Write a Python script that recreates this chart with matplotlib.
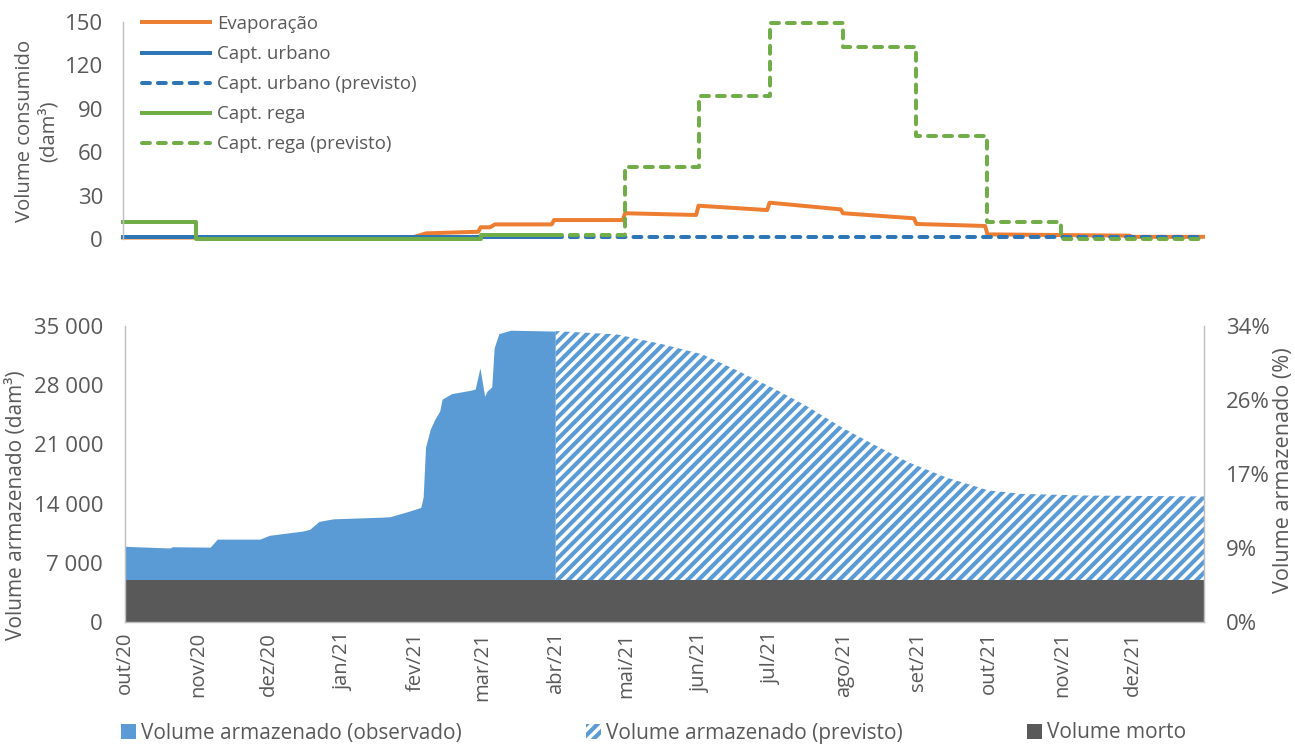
import matplotlib
matplotlib.use("Agg")
import matplotlib.pyplot as plt
from matplotlib.patches import Patch
import pandas as pd

# Figure geometry: 1295 x 745 px. dpi 130 so that the hatch spacing is close
# to the Excel "wide upward diagonal" pattern.
DPI = 130
W, H = 1295, 745

TXT = "#595959"
AXIS_GREY = "#BFBFBF"
ORANGE = "#ED7D31"
BLUE_LINE = "#2E75B6"
GREEN = "#70AD47"
AREA_BLUE = "#5B9BD5"
DEAD_GREY = "#595959"

# ---------------------------------------------------------------- data
month_starts = pd.date_range("2020-10-01", "2021-12-01", freq="MS")
month_labels = ["out/20", "nov/20", "dez/20", "jan/21", "fev/21", "mar/21",
                "abr/21", "mai/21", "jun/21", "jul/21", "ago/21", "set/21",
                "out/21", "nov/21", "dez/21"]
x_start, x_end = pd.Timestamp("2020-10-01"), pd.Timestamp("2021-12-31")

# top panel (dam3)
evap_dates = pd.to_datetime([
    "2020-10-01", "2021-01-31", "2021-02-06", "2021-02-28", "2021-03-01",
    "2021-03-05", "2021-03-07", "2021-03-31", "2021-04-01", "2021-04-30",
    "2021-05-01", "2021-05-31", "2021-06-01", "2021-06-30", "2021-07-01",
    "2021-07-31", "2021-08-01", "2021-08-31", "2021-09-01", "2021-09-30",
    "2021-10-01", "2021-11-30", "2021-12-01", "2021-12-31"])
evap_vals = [1.0, 1.0, 3.9, 5.0, 8.1,
             8.1, 10.1, 10.1, 13.1, 13.1,
             17.8, 16.6, 23.0, 20.0, 25.1,
             20.5, 17.8, 14.3, 10.4, 9.0,
             3.2, 2.3, 1.5, 1.5]

urb_obs_dates = pd.to_datetime(["2020-10-01", "2021-04-01"])
urb_obs_vals = [1.2, 1.2]
urb_prev_dates = pd.to_datetime(["2021-04-01", "2021-12-31"])
urb_prev_vals = [1.2, 1.2]

rega_obs_dates = pd.to_datetime(["2020-10-01", "2020-11-01", "2021-03-01", "2021-04-01"])
rega_obs_vals = [12.0, 0.0, 2.8, 2.8]
rega_prev_dates = pd.to_datetime([
    "2021-04-01", "2021-05-01", "2021-06-01", "2021-07-01", "2021-08-01",
    "2021-09-01", "2021-10-01", "2021-11-01", "2021-12-31"])
rega_prev_vals = [3.0, 50.0, 99.0, 149.5, 133.0, 71.0, 12.0, 0.0, 0.0]

# bottom panel (dam3)
obs_dates = pd.to_datetime([
    "2020-10-01", "2020-10-20", "2020-10-21", "2020-11-06", "2020-11-09",
    "2020-11-27", "2020-12-01", "2020-12-15", "2020-12-18", "2020-12-22",
    "2020-12-28", "2021-01-18", "2021-01-21", "2021-01-29", "2021-02-03",
    "2021-02-04", "2021-02-05", "2021-02-07", "2021-02-09", "2021-02-11",
    "2021-02-12", "2021-02-16", "2021-02-24", "2021-02-26", "2021-02-28",
    "2021-03-02", "2021-03-03", "2021-03-05", "2021-03-06", "2021-03-08",
    "2021-03-13", "2021-04-01"])
obs_vals = [8950, 8750, 8900, 8850, 9800,
            9800, 10250, 10750, 10950, 11900,
            12200, 12400, 12450, 13100, 13550,
            14750, 20650, 22800, 24000, 24950,
            26350, 27000, 27400, 27550, 30050,
            26700, 27300, 27800, 32400, 34100,
            34500, 34400]

prev_dates = pd.to_datetime([
    "2021-04-01", "2021-04-27", "2021-05-16", "2021-06-02", "2021-06-17",
    "2021-07-03", "2021-07-16", "2021-07-31", "2021-08-13", "2021-08-28",
    "2021-09-13", "2021-10-01", "2021-10-15", "2021-11-12", "2021-12-31"])
prev_vals = [34400, 34000, 32850, 31650, 29700,
             27500, 25550, 23000, 21050, 18900,
             17100, 15550, 15150, 14950, 14850]

dead_volume = 5000

left_ticks = [0, 7000, 14000, 21000, 28000, 35000]
right_ticks = [0, 0.085, 0.17, 0.255, 0.34]
right_labels = ["0%", "9%", "17%", "26%", "34%"]
top_ticks = [0, 30, 60, 90, 120, 150]

# ---------------------------------------------------------------- style
plt.rcParams["font.family"] = ["Open Sans", "DejaVu Sans"]
plt.rcParams["font.size"] = 11
plt.rcParams["text.color"] = TXT
plt.rcParams["hatch.linewidth"] = 2.3

LW = 2.2            # ~4 px
DASH = (2.0, 2.0)
TICK_FS = 12.3


def px(v):
    return v * 72.0 / DPI


fig = plt.figure(figsize=(W / DPI, H / DPI), dpi=DPI)

ax_top = fig.add_axes([123 / W, 1 - 239 / H, (1203 - 123) / W, (239 - 22) / H])
ax_bot = fig.add_axes([125 / W, 1 - 622 / H, (1204 - 125) / W, (622 - 326) / H])
ax_pct = ax_bot.twinx()

# ---------------------------------------------------------------- top panel
ax_top.plot(evap_dates, evap_vals, color=ORANGE, lw=LW, clip_on=False,
            label="Evaporação")
ax_top.plot(urb_obs_dates, urb_obs_vals, color=BLUE_LINE, lw=LW,
            drawstyle="steps-post", clip_on=False, label="Capt. urbano")
ax_top.plot(urb_prev_dates, urb_prev_vals, color=BLUE_LINE, lw=LW,
            drawstyle="steps-post", dashes=DASH, dash_capstyle="round",
            clip_on=False, label="Capt. urbano (previsto)")
ax_top.plot(rega_obs_dates, rega_obs_vals, color=GREEN, lw=LW,
            drawstyle="steps-post", clip_on=False, label="Capt. rega")
ax_top.plot(rega_prev_dates, rega_prev_vals, color=GREEN, lw=LW,
            drawstyle="steps-post", dashes=DASH, dash_capstyle="round",
            clip_on=False, label="Capt. rega (previsto)")

ax_top.set_xlim(x_start, x_end)
ax_top.set_ylim(0, 150)
ax_top.set_yticks(top_ticks)
ax_top.set_xticks([])
for s in ("top", "right", "bottom"):
    ax_top.spines[s].set_visible(False)
ax_top.spines["left"].set_color(AXIS_GREY)
ax_top.tick_params(axis="y", length=0, pad=px(20), labelcolor=TXT,
                   labelsize=TICK_FS)

ax_top.legend(loc="upper left", bbox_to_anchor=(142 / W, 1 - 15 / H),
              bbox_transform=fig.transFigure, frameon=False,
              borderpad=0, borderaxespad=0, handlelength=3.65,
              handletextpad=0.38, labelspacing=0.65, fontsize=10.3)

fig.text(37 / W, 1 - 131 / H, "Volume consumido\n(dam³)", rotation=90,
         ha="center", va="center", multialignment="center", fontsize=11.2,
         color=TXT, linespacing=1.2)

# ---------------------------------------------------------------- bottom panel
ax_bot.fill_between(obs_dates, 0, obs_vals, color=AREA_BLUE, lw=0)
ax_bot.fill_between(prev_dates, 0, prev_vals, facecolor="white",
                    edgecolor=AREA_BLUE, hatch="////", lw=0)
ax_bot.fill_between([x_start, x_end], 0, dead_volume, color=DEAD_GREY, lw=0)

ax_bot.set_xlim(x_start, x_end)
ax_bot.set_ylim(0, 35000)
ax_bot.set_yticks(left_ticks)
ax_bot.set_yticklabels([f"{v:,}".replace(",", " ") for v in left_ticks])
ax_bot.set_xticks(month_starts)
ax_bot.set_xticklabels(month_labels, rotation=90, va="top", ha="center")
ax_bot.tick_params(axis="y", length=0, pad=px(22), labelcolor=TXT,
                   labelsize=TICK_FS)
ax_bot.tick_params(axis="x", length=0, pad=px(10), labelcolor=TXT,
                   labelsize=11.2)
for s in ("top", "right"):
    ax_bot.spines[s].set_visible(False)
for s in ("left", "bottom"):
    ax_bot.spines[s].set_color(AXIS_GREY)

ax_pct.set_ylim(0, 0.34)
ax_pct.set_yticks(right_ticks)
ax_pct.set_yticklabels(right_labels)
ax_pct.tick_params(axis="y", length=0, pad=px(22), labelcolor=TXT,
                   labelsize=TICK_FS)
for s in ("top", "left", "bottom"):
    ax_pct.spines[s].set_visible(False)
ax_pct.spines["right"].set_color(AXIS_GREY)

fig.text(17 / W, 1 - 505 / H, "Volume armazenado (dam³)", rotation=90,
         ha="center", va="center", fontsize=11.6, color=TXT)
fig.text(1283 / W, 1 - 470 / H, "Volume armazenado (%)", rotation=90,
         ha="center", va="center", fontsize=12.0, color=TXT)

handles = [Patch(facecolor=AREA_BLUE, lw=0),
           Patch(facecolor="white", edgecolor=AREA_BLUE, hatch="////", lw=0),
           Patch(facecolor=DEAD_GREY, lw=0)]
labels = ["Volume armazenado (observado)", "Volume armazenado (previsto)",
          "Volume morto"]
fig.legend(handles, labels, loc="center left", ncol=3,
           bbox_to_anchor=(121 / W, 1 - 733 / H), frameon=False,
           borderpad=0, borderaxespad=0, handlelength=0.7, handleheight=0.7,
           handletextpad=0.25, columnspacing=6.0, fontsize=11.5)

fig.savefig("out.png", dpi=DPI)
